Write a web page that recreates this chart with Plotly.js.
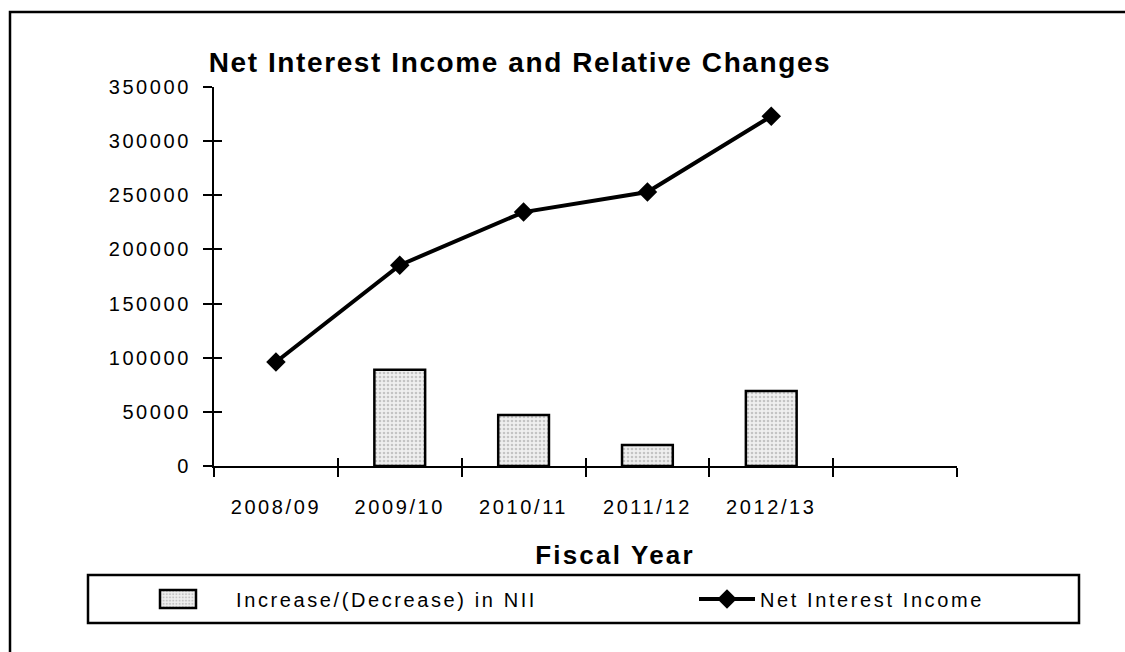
<!DOCTYPE html>
<html>
<head>
<meta charset="utf-8">
<script src="https://cdn.plot.ly/plotly-3.0.1.min.js"></script>
<style>
  html, body { margin: 0; padding: 0; background: #fff; }
  #chart { width: 1125px; height: 652px; }
  .xtick text, .ytick text { letter-spacing: 2.6px; }
  .g-xtitle text { letter-spacing: 2.2px; }
  .gtitle { letter-spacing: 1.6px; }
</style>
</head>
<body>
<div id="chart"></div>
<script>
// ---- data ----
const fiscalYears = ['2008/09', '2009/10', '2010/11', '2011/12', '2012/13'];
const netInterestIncome = [96000, 185500, 234500, 253000, 323000];
const changeYears = ['2009/10', '2010/11', '2011/12', '2012/13'];
const changeInNII = [88800, 47000, 19500, 69300];
const axisSlots = fiscalYears.concat([' ']);
const yTicks = [0, 50000, 100000, 150000, 200000, 250000, 300000, 350000];

const FONT = 'Liberation Sans, Arial, sans-serif';

const barTrace = {
  type: 'bar',
  name: 'Increase/(Decrease) in NII',
  x: changeYears,
  y: changeInNII,
  xaxis: 'x', yaxis: 'y',
  legend: 'legend',
  width: 0.41,
  marker: {
    color: '#efefef',
    line: { color: '#000', width: 2.5 },
    pattern: { shape: '.', fgcolor: '#9a9a9a', size: 4, solidity: 0.35, fillmode: 'overlay' }
  }
};

const lineTrace = {
  type: 'scatter',
  mode: 'lines+markers',
  name: 'Net Interest Income',
  x: fiscalYears,
  y: netInterestIncome,
  xaxis: 'x2', yaxis: 'y2',
  legend: 'legend2',
  line: { color: '#000', width: 4 },
  marker: { symbol: 'diamond', size: 15, color: '#000' }
};

const L = 214, T = 87, PW = 743, PH = 379;
function px(x) { return (x - L) / PW; }
function py(y) { return (T + PH - y) / PH; }

const xBase = {
  type: 'category',
  categoryorder: 'array',
  categoryarray: axisSlots,
  range: [-0.5, 5.5],
  tickson: 'boundaries',
  showgrid: false, zeroline: false,
  linecolor: '#000', linewidth: 2,
  tickcolor: '#000', tickwidth: 2,
  fixedrange: true
};
const yBase = {
  range: [0, 350000],
  tickvals: yTicks,
  tickformat: 'd',
  showgrid: false, zeroline: false,
  linecolor: '#000', linewidth: 2,
  tickcolor: '#000', tickwidth: 2,
  fixedrange: true
};

const legendBase = {
  orientation: 'h',
  yanchor: 'middle',
  y: py(599),
  xanchor: 'left',
  bgcolor: 'rgba(0,0,0,0)',
  borderwidth: 0,
  font: { family: FONT, size: 20, color: '#000' }
};

const layout = {
  width: 1125, height: 652,
  margin: { l: L, r: 1125 - L - PW, t: T, b: 652 - T - PH, pad: 0 },
  paper_bgcolor: '#fff', plot_bgcolor: '#fff',
  font: { family: FONT, color: '#000', size: 20 },
  showlegend: true,
  title: {
    text: '<b>Net Interest Income and Relative Changes</b>',
    font: { family: FONT, size: 28, color: '#000' },
    x: 520 / 1125, xanchor: 'center', xref: 'container',
    y: 1 - 62 / 652, yanchor: 'middle', yref: 'container'
  },
  xaxis: Object.assign({}, xBase, {
    ticks: 'outside', ticklen: 9,
    showticklabels: true,
    ticklabelstandoff: 22,
    tickfont: { family: FONT, size: 20, color: '#000' },
    title: { text: '<b>Fiscal Year</b>', font: { family: FONT, size: 26, color: '#000' }, standoff: 4 },
    showline: true
  }),
  xaxis2: Object.assign({}, xBase, {
    overlaying: 'x', anchor: 'y2',
    ticks: 'inside', ticklen: 8,
    showticklabels: false, showline: false
  }),
  yaxis: Object.assign({}, yBase, {
    ticks: 'outside', ticklen: 9,
    ticklabelstandoff: 8,
    tickfont: { family: FONT, size: 20, color: '#000' },
    showline: true
  }),
  yaxis2: Object.assign({}, yBase, {
    overlaying: 'y', side: 'left', anchor: 'x2',
    ticks: 'inside', ticklen: 8,
    showticklabels: false, showline: false
  }),
  legend: Object.assign({}, legendBase, { x: px(120), itemwidth: 106 }),
  legend2: Object.assign({}, legendBase, { x: px(694), itemwidth: 56 }),
  shapes: [
    { type: 'rect', xref: 'paper', yref: 'paper',
      x0: px(88), x1: px(1079), y0: py(623), y1: py(575),
      line: { color: '#000', width: 2.5 }, fillcolor: 'rgba(0,0,0,0)', layer: 'below' },
    { type: 'rect', xref: 'paper', yref: 'paper',
      x0: px(10), x1: px(1140), y0: py(670), y1: py(12),
      line: { color: '#000', width: 2.5 }, fillcolor: 'rgba(0,0,0,0)', layer: 'below' }
  ]
};

function finish(gd) {
  // letter spacing of the reference's legend labels (both legends)
  const names = [barTrace.name, lineTrace.name];
  gd.querySelectorAll('svg text').forEach(function (t) {
    if (t.classList.contains('legendtext') || names.indexOf(t.textContent) >= 0) {
      t.style.letterSpacing = '2.6px';
    }
  });
  // legends were sized before the spacing: do not clip their contents
  gd.querySelectorAll('.infolayer [clip-path]').forEach(function (el) {
    const cls = (el.getAttribute('class') || '');
    if (cls.indexOf('scrollbox') >= 0) el.removeAttribute('clip-path');
  });
  // wide rectangle swatch for the bar legend entry, as in the reference
  gd.querySelectorAll('.legendpoints path').forEach(function (p) {
    const d = p.getAttribute('d') || '';
    if (/^M6,6H-6V-6H6Z$/.test(d)) p.setAttribute('d', 'M18,9H-18V-9H18Z');
  });
  // the reference puts the x-axis title right of the axis centre, just above the legend box
  const xt = gd.querySelector('.g-xtitle');
  if (xt && !xt.dataset.moved) {
    const bb = xt.getBBox();
    const dx = 615 - (bb.x + bb.width / 2);
    const dy = 555 - (bb.y + bb.height / 2);
    xt.setAttribute('transform', 'translate(' + dx.toFixed(1) + ',' + dy.toFixed(1) + ')');
    xt.dataset.moved = '1';
  }
}

Plotly.newPlot('chart', [barTrace, lineTrace], layout, { displayModeBar: false, staticPlot: true }).then(function (gd) {
  finish(gd);
  setTimeout(function () { finish(gd); }, 50);
});
</script>
</body>
</html>
